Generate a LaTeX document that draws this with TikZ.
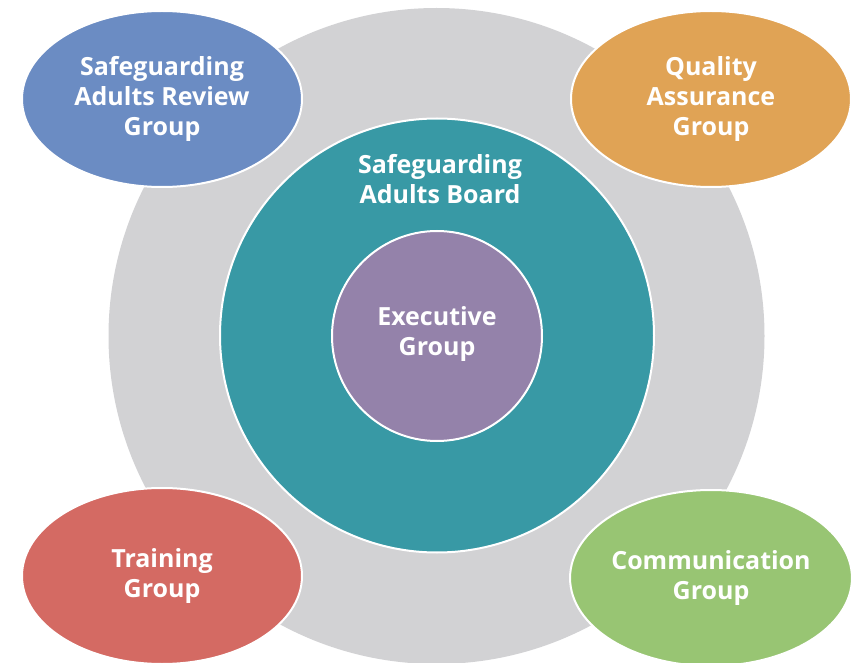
\documentclass[tikz,border=0pt]{standalone}
\usepackage{fontspec}
\setmainfont{Open Sans}
\usetikzlibrary{shapes.geometric}
\definecolor{greyring}{HTML}{D2D2D4}
\definecolor{teal1}{HTML}{3899A5}
\definecolor{purp}{HTML}{9482AA}
\definecolor{blueg}{HTML}{6B8CC3}
\definecolor{orangeg}{HTML}{E0A355}
\definecolor{redg}{HTML}{D46A63}
\definecolor{greeng}{HTML}{98C573}
\tikzset{
  grp/.style={ellipse, draw=white, line width=2pt, minimum width=280pt, minimum height=176pt,
    inner sep=0pt, align=center, text=white, font=\fontsize{25}{30}\selectfont\bfseries},
  ring/.style={circle, draw=white, line width=2pt, inner sep=0pt},
  lbl/.style={text=white, align=center, font=\fontsize{25}{30}\selectfont\bfseries}
}
\begin{document}
\begin{tikzpicture}[x=1pt,y=-1pt]
\useasboundingbox (0,0) rectangle (852,663);
\fill[greyring] (436.5,336) circle (328pt);
\node[ring, fill=teal1, minimum size=434pt] (board) at (437,335.5) {};
\node[ring, fill=purp, minimum size=210pt] (exec) at (437,336) {};
\node[lbl] (boardlbl) at (440,179) {Safeguarding\\Adults Board};
\node[lbl] (execlbl) at (437,334) {Executive\\Group};
\node[grp, fill=blueg] (sar) at (162,99) {Safeguarding\\Adults Review\\Group};
\node[grp, fill=orangeg] (qa) at (711,99) {Quality\\Assurance\\Group};
\node[grp, fill=redg] (tr) at (162,576) {Training\\Group};
\node[grp, fill=greeng] (comm) at (711,578) {Communication\\Group};
\end{tikzpicture}
\end{document}
